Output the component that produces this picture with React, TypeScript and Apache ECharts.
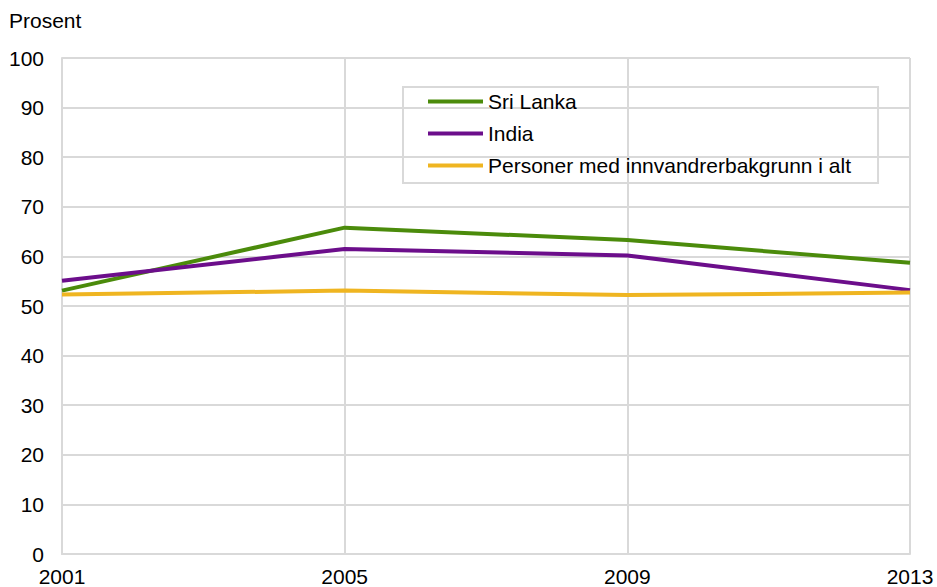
import React, { useEffect, useRef } from "react";
import * as echarts from "echarts";

const years = ["2001", "2005", "2009", "2013"];
const sriLanka = [53.1, 65.8, 63.3, 58.7];
const india = [55.1, 61.5, 60.2, 53.2];
const personer = [52.3, 53.1, 52.2, 52.7];
const seriesNames = ["Sri Lanka", "India", "Personer med innvandrerbakgrunn i alt"];
const colors = ["#4b8b0b", "#6c0e8b", "#efb521"];

const FONT = "'Liberation Sans', Arial, sans-serif";
const FS = 21;

export default function App() {
  const ref = useRef<HTMLDivElement>(null);
  useEffect(() => {
    if (!ref.current) return;
    const chart = echarts.init(ref.current, undefined, { renderer: "svg" });
    const data = [sriLanka, india, personer];
    chart.setOption({
      animation: false,
      textStyle: { fontFamily: FONT },
      title: {
        text: "Prosent",
        left: 9,
        top: 10,
        padding: 0,
        textStyle: { fontSize: FS, fontWeight: "normal", color: "#000", fontFamily: FONT },
      },
      legend: {
        orient: "vertical",
        left: 403,
        top: 87,
        padding: [4, 27, 7, 25],
        itemWidth: 55,
        itemHeight: 20,
        itemGap: 11,
        borderColor: "#d9d9d9",
        borderWidth: 2,
        textStyle: { fontSize: FS, color: "#000", fontFamily: FONT },
        data: seriesNames.map((n, i) => ({
          name: n,
          icon: "path://M0,0 L55,0 L55,4 L0,4 Z",
          itemStyle: { color: colors[i] },
        })),
      },
      grid: { left: 62, right: 27, top: 58, bottom: 24, containLabel: false },
      xAxis: {
        type: "category",
        data: years,
        boundaryGap: false,
        axisLine: { show: true, lineStyle: { color: "#d9d9d9", width: 2 } },
        axisTick: { show: false },
        splitLine: { show: true, lineStyle: { color: "#d9d9d9", width: 2 } },
        axisLabel: { fontSize: FS, color: "#000", margin: 12, fontFamily: FONT },
      },
      yAxis: {
        type: "value",
        min: 0,
        max: 100,
        interval: 10,
        axisLine: { show: true, lineStyle: { color: "#d9d9d9", width: 2 } },
        axisTick: { show: false },
        splitLine: { show: true, lineStyle: { color: "#d9d9d9", width: 2 } },
        axisLabel: { fontSize: FS, color: "#000", margin: 18, fontFamily: FONT },
      },
      series: seriesNames.map((n, i) => ({
        name: n,
        type: "line",
        data: data[i],
        symbol: "none",
        lineStyle: { color: colors[i], width: 4 },
        itemStyle: { color: colors[i] },
      })),
    });
    return () => chart.dispose();
  }, []);
  return (
    <div
      ref={ref}
      style={{ position: "fixed", left: 0, top: 0, width: 937, height: 587, background: "#fff" }}
    />
  );
}
